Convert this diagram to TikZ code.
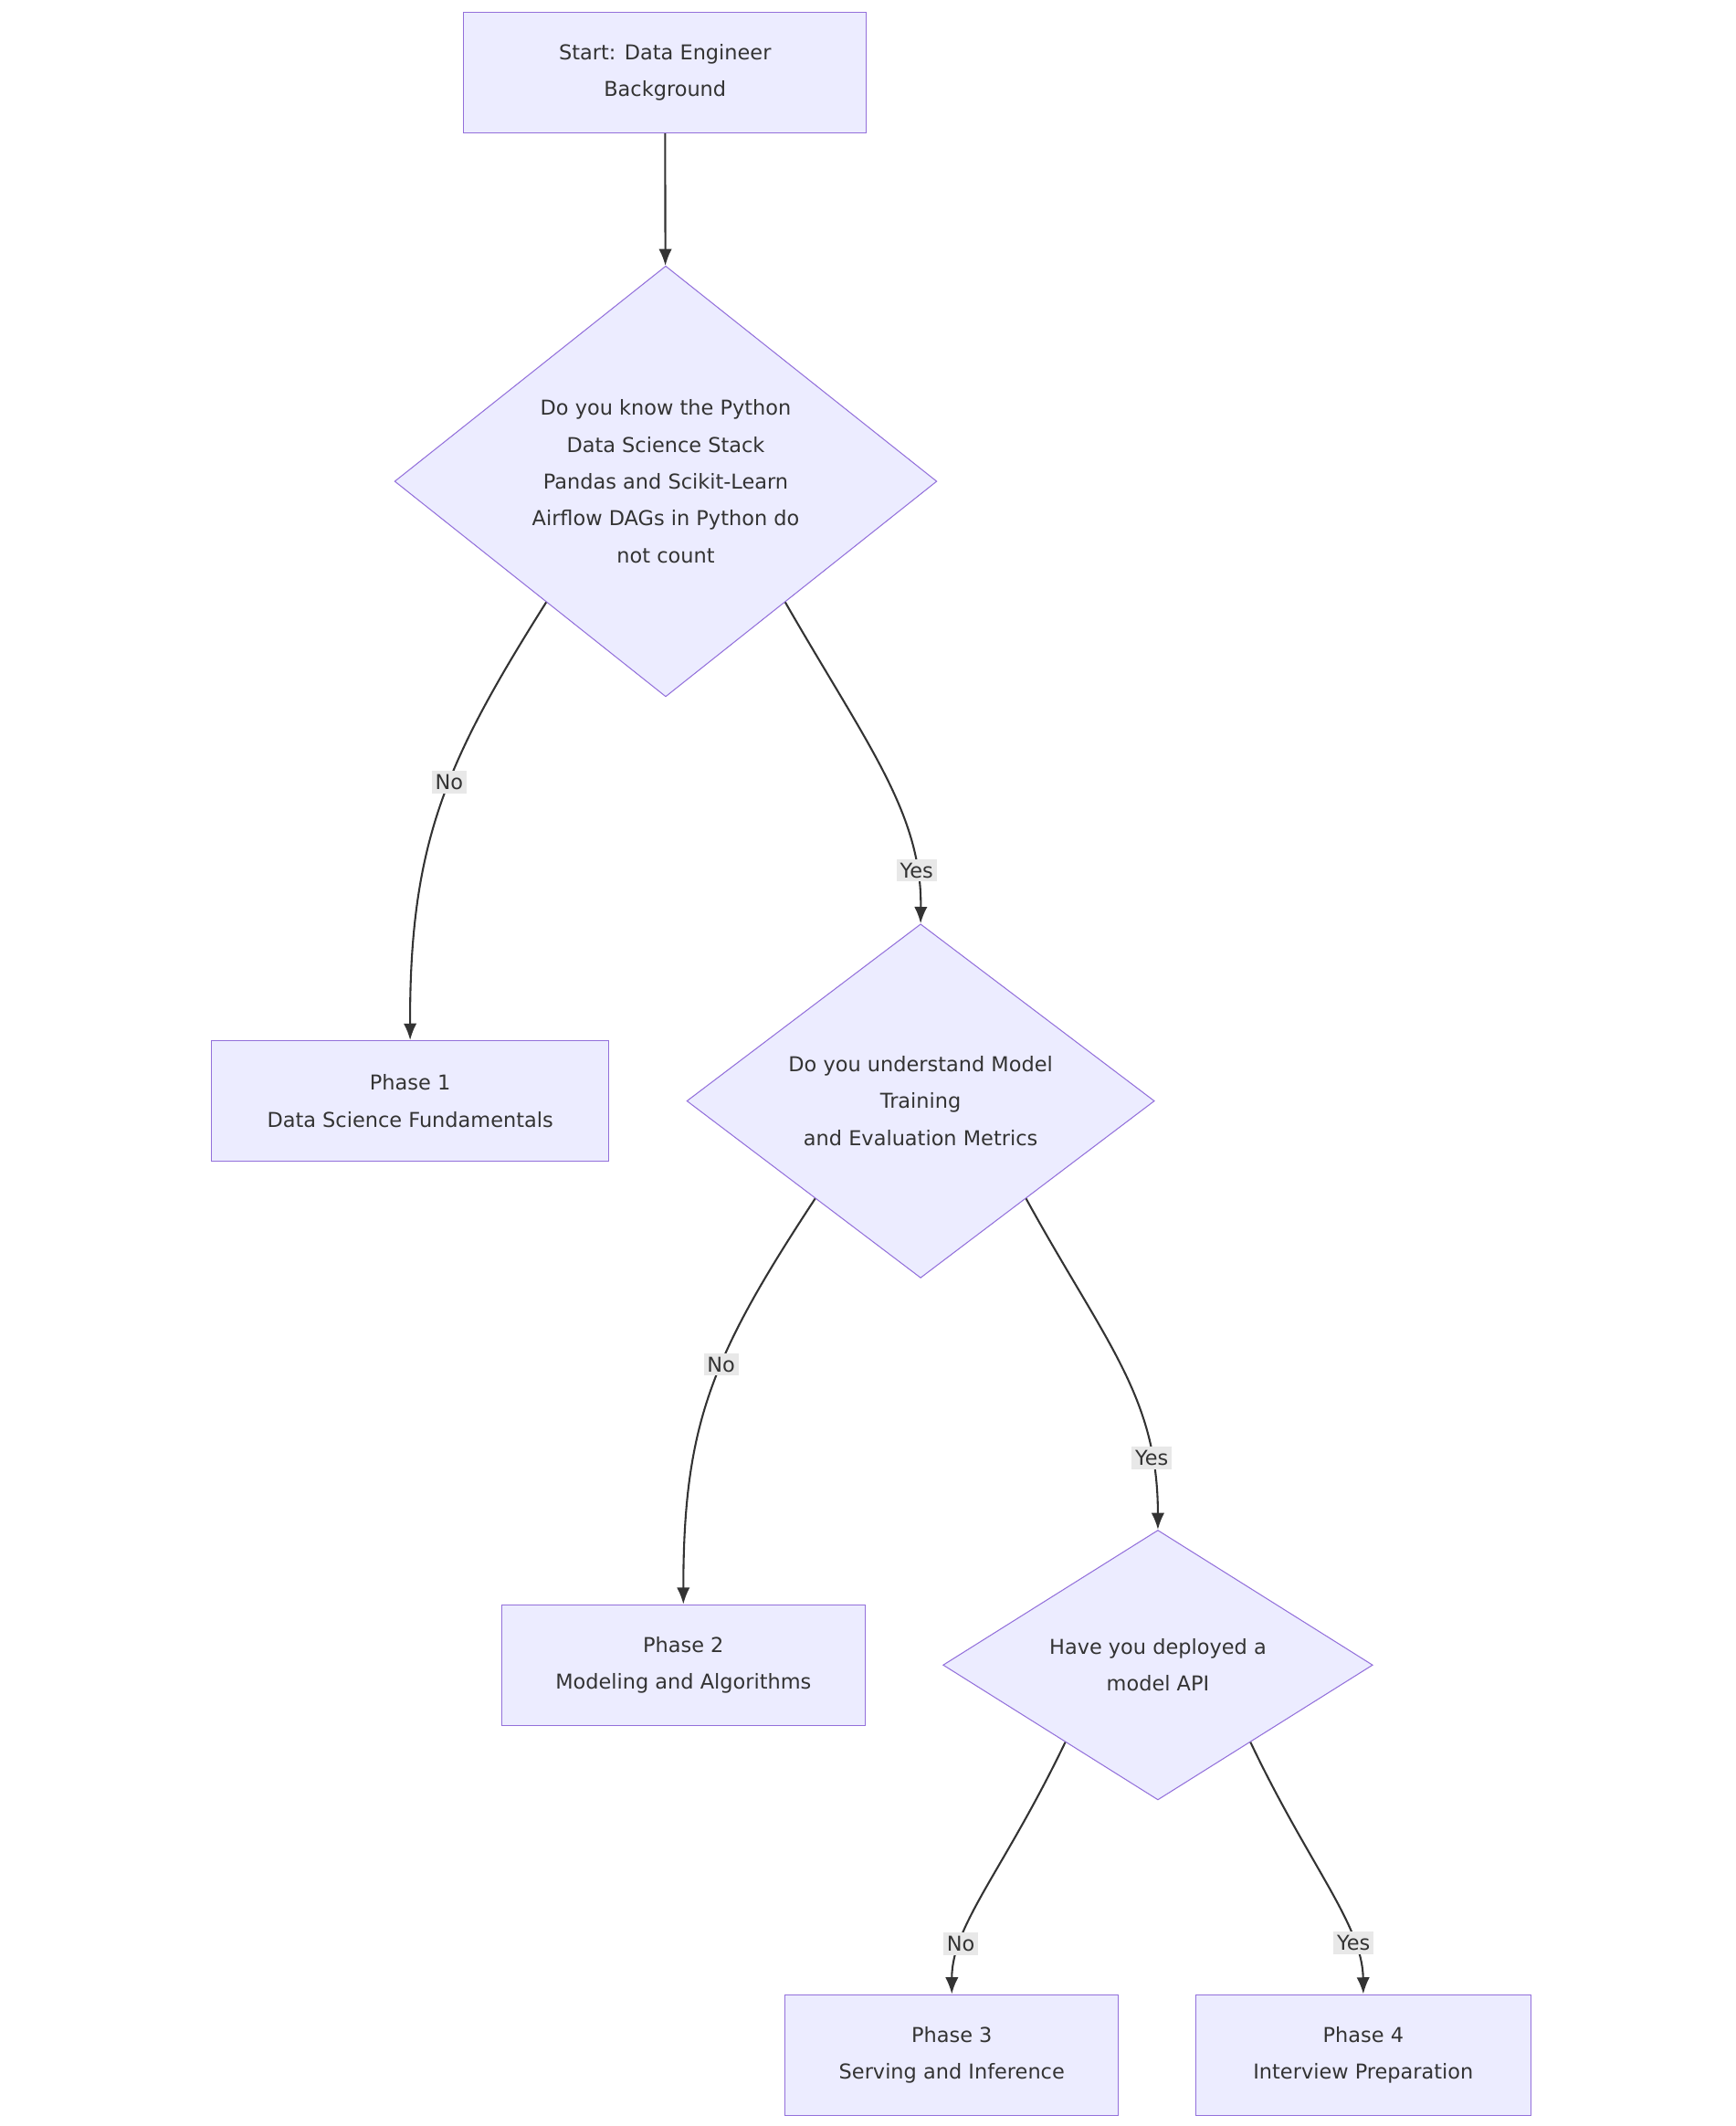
\documentclass[tikz,border=0pt]{standalone}
\usepackage{fontspec}
\setmainfont{DejaVu Sans}
\usetikzlibrary{shapes.geometric,arrows.meta,calc}
\definecolor{boxfill}{HTML}{ECECFF}
\definecolor{boxline}{HTML}{9370DB}
\definecolor{ink}{HTML}{333333}
\definecolor{lblbg}{HTML}{E8E8E8}
\tikzset{
  box/.style={draw=boxline, fill=boxfill, text=ink, align=center, inner sep=0pt,
    font=\fontsize{8.6}{15.5}\selectfont},
  ask/.style={box, diamond, aspect=1},
  flow/.style={draw=ink, thick, -{Latex[length=7pt,width=5.5pt]}},
  lbl/.style={fill=lblbg, text=ink, inner sep=1.5pt, font=\fontsize{8.6}{10}\selectfont}
}
\begin{document}
\begin{tikzpicture}[x=0.02cm, y=-0.02cm]
  \useasboundingbox (0,0) rectangle (1280,1568);
  % boxes
  \node[box, minimum width=5.94cm, minimum height=1.78cm] (start) at (490.5,53.5) {Start: Data Engineer\\Background};
  \node[ask, minimum width=8cm] (knowpy) at (491,355) {Do you know the Python\\Data Science Stack\\Pandas and Scikit-Learn\\Airflow DAGs in Python do\\not count};
  \node[box, minimum width=5.86cm, minimum height=1.78cm] (phase1) at (302.5,812) {Phase 1\\Data Science Fundamentals};
  \node[ask, minimum width=6.9cm] (knowml) at (679,812) {Do you understand Model\\Training\\and Evaluation Metrics};
  \node[box, minimum width=5.36cm, minimum height=1.78cm] (phase2) at (504,1228) {Phase 2\\Modeling and Algorithms};
  \node[ask, minimum width=6.34cm] (deployed) at (854,1228) {Have you deployed a\\model API};
  \node[box, minimum width=4.92cm, minimum height=1.78cm] (phase3) at (702,1515.5) {Phase 3\\Serving and Inference};
  \node[box, minimum width=4.94cm, minimum height=1.78cm] (phase4) at (1005.5,1515.5) {Phase 4\\Interview Preparation};
  % exits on the lower sides
  \coordinate (knowpyL) at ($(knowpy.south)!0.44!(knowpy.west)$);
  \coordinate (knowpyR) at ($(knowpy.south)!0.44!(knowpy.east)$);
  \coordinate (knowmlL) at ($(knowml.south)!0.45!(knowml.west)$);
  \coordinate (knowmlR) at ($(knowml.south)!0.45!(knowml.east)$);
  \coordinate (deployedL) at ($(deployed.south)!0.43!(deployed.west)$);
  \coordinate (deployedR) at ($(deployed.south)!0.43!(deployed.east)$);
  % connectors
  \draw[flow] (start) -- (knowpy);
  \draw[flow] (knowpyL) .. controls (330,560) and (302,620) .. node[lbl, pos=0.44] {No} (phase1.north);
  \draw[flow] (knowpyR) .. controls (640,550) and (680,600) .. node[lbl, pos=0.83] {Yes} (knowml.north);
  \draw[flow] (knowmlL) .. controls (525,1000) and (504,1050) .. node[lbl, pos=0.42] {No} (phase2.north);
  \draw[flow] (knowmlR) .. controls (815,990) and (854,1030) .. node[lbl, pos=0.8] {Yes} (deployed.north);
  \draw[flow] (deployedL) .. controls (740,1380) and (702,1420) .. node[lbl, pos=0.75] {No} (phase3.north);
  \draw[flow] (deployedR) .. controls (965,1375) and (1005,1420) .. node[lbl, pos=0.75] {Yes} (phase4.north);
\end{tikzpicture}
\end{document}
